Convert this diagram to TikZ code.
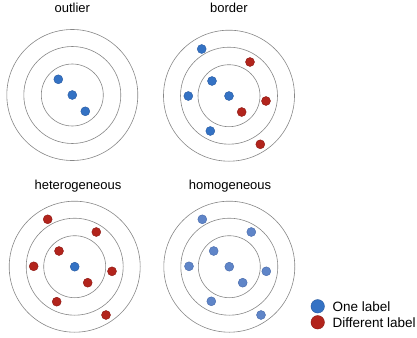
\documentclass[tikz,border=0pt]{standalone}
\usepackage{fontspec}
\setmainfont{Liberation Sans}
\definecolor{oneblue}{RGB}{52,114,196}
\definecolor{onebluedk}{RGB}{40,90,160}
\definecolor{diffred}{RGB}{178,36,28}
\definecolor{diffreddk}{RGB}{140,25,20}
\definecolor{homblue}{RGB}{95,133,200}
\definecolor{hombluedk}{RGB}{70,105,170}
\definecolor{ringgray}{RGB}{135,135,135}
\tikzset{
  ring/.style={draw=ringgray, line width=0.6pt},
  bdot/.style={circle, fill=oneblue, draw=onebluedk, line width=0.4pt, inner sep=0pt, minimum size=9pt},
  rdot/.style={circle, fill=diffred, draw=diffreddk, line width=0.4pt, inner sep=0pt, minimum size=9pt},
  hdot/.style={circle, fill=homblue, draw=hombluedk, line width=0.4pt, inner sep=0pt, minimum size=9pt},
  title/.style={font=\fontsize{13pt}{15pt}\selectfont, inner sep=0pt, anchor=base},
  legtext/.style={font=\fontsize{13.5pt}{16pt}\selectfont, inner sep=0pt, anchor=west},
}
\begin{document}
\begin{tikzpicture}[x=1pt,y=-1pt]
\useasboundingbox (0,0) rectangle (417,337);
% ring sets
\foreach \cx/\cy/\n in {72.3/95/o, 229/95.7/b, 74.7/266.7/he, 229.3/266.7/ho}{
  \coordinate (c\n) at (\cx,\cy);
  \draw[ring] (c\n) circle[radius=65.5];
  \draw[ring] (c\n) circle[radius=48.5];
  \draw[ring] (c\n) circle[radius=31];
}
% titles
\node[title] (tout) at (72.3,13) {outlier};
\node[title] (tbor) at (229,13) {border};
\node[title] (thet) at (78,189) {heterogeneous};
\node[title] (thom) at (230,189) {homogeneous};
% outlier
\node[bdot] (o1) at (58.3,79.3) {};
\node[bdot] (o2) at (72.3,95) {};
\node[bdot] (o3) at (85.3,111.3) {};
% border
\node[bdot] (b1) at (201.7,49) {};
\node[rdot] (b2) at (250,62) {};
\node[bdot] (b3) at (212,81) {};
\node[bdot] (b4) at (188.3,96) {};
\node[bdot] (b5) at (229,96) {};
\node[rdot] (b6) at (266,101) {};
\node[rdot] (b7) at (241.7,112) {};
\node[bdot] (b8) at (210.3,131) {};
\node[rdot] (b9) at (260.3,144.3) {};
% heterogeneous
\node[rdot] (e1) at (47.7,219.3) {};
\node[rdot] (e2) at (96.3,232) {};
\node[rdot] (e3) at (59,251) {};
\node[rdot] (e4) at (33.7,266.3) {};
\node[bdot] (e5) at (74.7,266.7) {};
\node[rdot] (e6) at (112,271.3) {};
\node[rdot] (e7) at (87.7,282.7) {};
\node[rdot] (e8) at (56.7,301.7) {};
\node[rdot] (e9) at (106,315) {};
% homogeneous
\node[hdot] (h1) at (202.3,219.3) {};
\node[hdot] (h2) at (251.3,232) {};
\node[hdot] (h3) at (213.7,251) {};
\node[hdot] (h4) at (189,266.3) {};
\node[hdot] (h5) at (229.3,266.7) {};
\node[hdot] (h6) at (266.3,271.3) {};
\node[hdot] (h7) at (242.7,282.7) {};
\node[hdot] (h8) at (211.3,301.3) {};
\node[hdot] (h9) at (261,315) {};
% legend
\node[bdot, minimum size=13.5pt] (l1) at (317.7,306.3) {};
\node[rdot, minimum size=13.5pt] (l2) at (317.7,322.3) {};
\node[legtext] (lt1) at (332.3,306.5) {One label};
\node[legtext] (lt2) at (332.3,322.5) {Different label};
\end{tikzpicture}
\end{document}
